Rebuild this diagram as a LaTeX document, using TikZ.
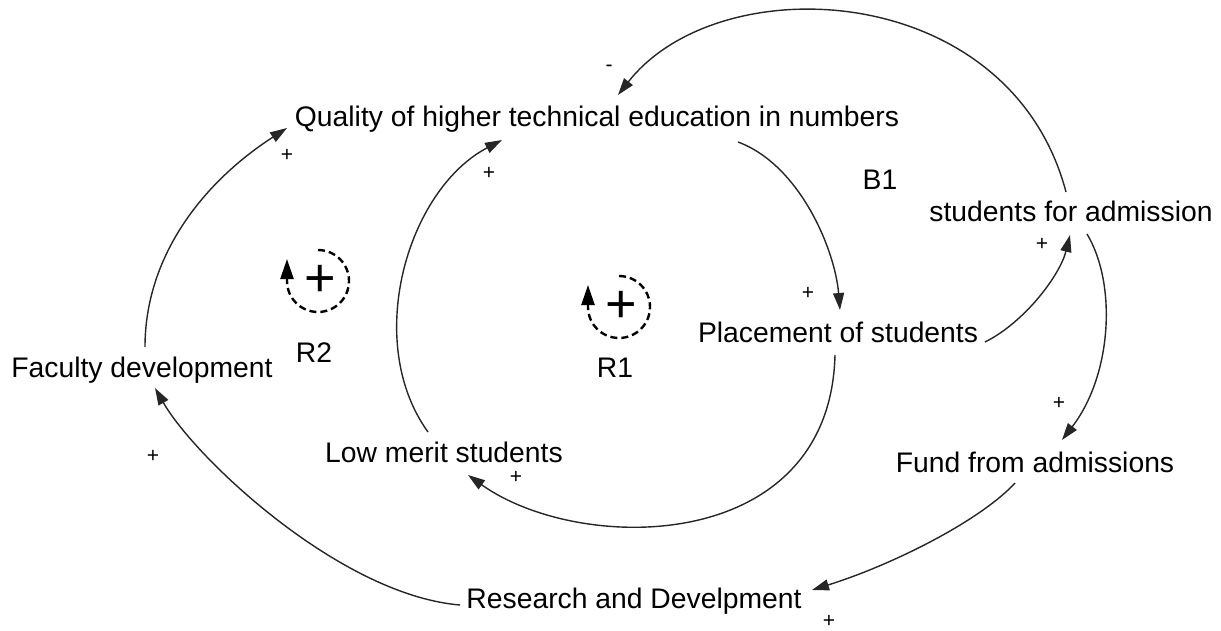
\documentclass[tikz,border=0pt]{standalone}
\usepackage{fontspec}
\setmainfont{Liberation Sans}
\usepackage{tikz}
\usetikzlibrary{calc}
\usetikzlibrary{arrows.meta}

\begin{document}
\begin{tikzpicture}[x=1pt,y=-1pt]
% définition des styles
\tikzstyle nomvar=[font=\fontsize{28.3}{34}\selectfont,inner sep=0pt,anchor=base]
\tikzstyle fleche=[color=black!85,line width=1.4pt,-{Triangle[length=17pt,width=11pt]}]
\tikzstyle signe=[font=\fontsize{21}{25}\selectfont,inner sep=0pt]
\tikzstyle boucle=[color=black,line width=2.4pt,dash pattern=on 7pt off 4pt,-{Triangle[length=20pt,width=13pt]}]
\tikzstyle signeboucle=[font=\fontsize{54}{54}\selectfont,inner sep=0pt]

\useasboundingbox (0,0) rectangle (1221,631);

% les variables
\node[nomvar] (qualite) at (597,127) {Quality of higher technical education in numbers};
\node[nomvar] (B1) at (880,190) {B1};
\node[nomvar] (admission) at (1071,222) {students for admission};
\node[nomvar] (placement) at (838,342) {Placement of students};
\node[nomvar] (faculte) at (142,377) {Faculty development};
\node[nomvar] (faible) at (444,462) {Low merit students};
\node[nomvar] (fonds) at (1035,472) {Fund from admissions};
\node[nomvar] (recherche) at (634,608) {Research and Develpment};

% les boucles R1 et R2
\foreach \cx/\cy/\nom/\dy in {318/281/R2/81,619/307/R1/70}
{
  \node[signeboucle] (plus\nom) at (\cx+2,\cy) {+};
  \draw[boucle] (\cx,\cy-31) arc[start angle=-90,end angle=180,radius=31] -- ++(0,-22);
  \node[nomvar] (\nom) at (\cx-4,\cy+\dy) {\nom};
}

% les flèches
\draw[fleche] ($(qualite.base)+(141,15)$) .. controls +(62,23) and +(-5,-60) .. ($(placement.base)+(2,-32)$);
\draw[fleche] ($(placement.base)+(-3,13)$) .. controls +(-5,200) and +(112,80) .. ($(faible.base)+(24,13)$);
\draw[fleche] ($(faible.base)+(-16,-30)$) .. controls +(-65,-90) and +(-95,50) .. ($(qualite.base)+(-95,13)$);
\draw[fleche] ($(faculte.base)+(3,-30)$) .. controls +(0,-90) and +(-85,55) .. ($(qualite.base)+(-310,1)$);
\draw[fleche] ($(recherche.base)+(-174,-3)$) .. controls +(-120,-10) and +(40,70) .. ($(faculte.base)+(13,11)$);
\draw[fleche] ($(fonds.base)+(-20,11)$) .. controls +(-35,38) and +(80,-25) .. ($(recherche.base)+(178,-18)$);
\draw[fleche] ($(placement.base)+(147,0)$) .. controls +(40,-20) and +(-10,40) .. ($(admission.base)+(-1,13)$);
\draw[fleche] ($(admission.base)+(16,12)$) .. controls +(30,50) and +(50,-65) .. ($(fonds.base)+(27,-32)$);
\draw[fleche] ($(admission.base)+(-5,-30)$) .. controls +(-56,-212) and +(102,-130) .. ($(qualite.base)+(21,-32)$);

% les signes
\foreach \x/\y [count=\i] in {287/155,489/173,808/293,1042/244,1059/403,516/477,153/456,829/621}
  \node[signe] (pol\i) at (\x,\y) {+};
\node[signe] (moins) at (609,68) {-};
\end{tikzpicture}
\end{document}
